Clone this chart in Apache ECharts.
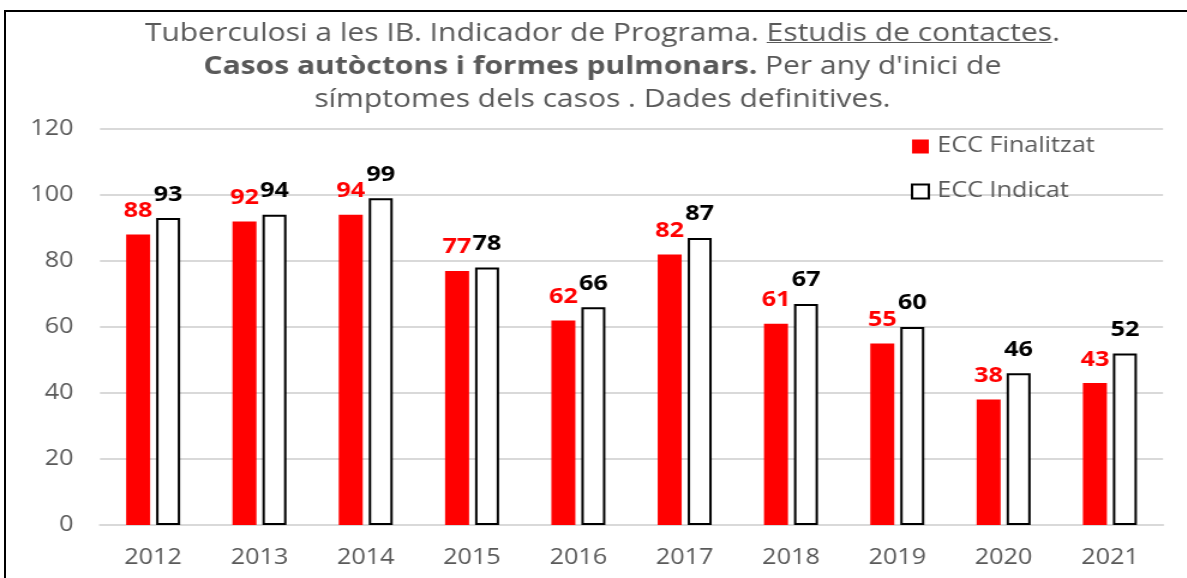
<!DOCTYPE html>
<html>
<head>
<meta charset="utf-8">
<script src="https://cdn.jsdelivr.net/npm/echarts@6/dist/echarts.min.js"></script>
<style>
  html, body { margin: 0; padding: 0; background: #fff; overflow: hidden; }
  /* el gràfic original està estirat en horitzontal: es dibuixa estret i s'eixampla */
  #chart { width: 989px; height: 578px; transform: scaleX(1.2); transform-origin: 0 0; }
  /* marc negre del gràfic original (retallat a dreta i a baix) */
  #frame { position: absolute; left: 4px; top: 10px; width: 1300px; height: 700px;
           border: 2px solid #000; pointer-events: none; }
</style>
</head>
<body>
<div id="chart"></div>
<div id="frame"></div>
<script>
const years = ['2012', '2013', '2014', '2015', '2016', '2017', '2018', '2019', '2020', '2021'];
const finalitzat = [88, 92, 94, 77, 62, 82, 61, 55, 38, 43];
const indicat = [93, 94, 99, 78, 66, 87, 67, 60, 46, 52];
const yTicks = { min: 0, max: 120, interval: 20 };

const grey = '#595959';
const font = '"Open Sans", "Noto Sans", sans-serif';

// subratllat amb un degradat al fons del tram de text
const underline = new echarts.graphic.LinearGradient(0, 0, 0, 1, [
  { offset: 0, color: 'rgba(0,0,0,0)' },
  { offset: 0.84, color: 'rgba(0,0,0,0)' },
  { offset: 0.84, color: grey },
  { offset: 0.89, color: grey },
  { offset: 0.89, color: 'rgba(0,0,0,0)' },
  { offset: 1, color: 'rgba(0,0,0,0)' }
]);

const chart = echarts.init(document.getElementById('chart'));

const option = {
  animation: false,
  title: {
    left: 497,
    textAlign: 'center',
    top: 12,
    text: 'Tuberculosi a les IB. Indicador de Programa. {u|Estudis de contactes}.\n' +
          '{b|Casos autòctons i formes pulmonars.} Per any d\'inici de\n' +
          'símptomes dels casos . Dades definitives.',
    textStyle: {
      color: grey,
      fontFamily: font,
      fontSize: 25,
      fontWeight: 'normal',
      lineHeight: 33,
      rich: {
        u: { color: grey, fontFamily: font, fontSize: 25, lineHeight: 33, backgroundColor: underline },
        b: { color: grey, fontFamily: font, fontSize: 25, lineHeight: 33, fontWeight: 'bold' }
      }
    }
  },
  legend: {
    orient: 'vertical',
    left: 754,
    top: 131,
    itemWidth: 14,
    itemHeight: 14,
    itemGap: 24,
    icon: 'rect',
    textStyle: { color: grey, fontFamily: font, fontSize: 21, padding: [0, 0, 0, 2] },
    data: ['ECC Finalitzat', 'ECC Indicat']
  },
  grid: { left: 83.3, right: 19.8, top: 129, bottom: 53, containLabel: false },
  xAxis: {
    type: 'category',
    data: years,
    axisLine: { lineStyle: { color: '#d9d9d9', width: 2 } },
    axisTick: { show: false },
    axisLabel: { color: grey, fontFamily: font, fontSize: 21, margin: 23 }
  },
  yAxis: {
    type: 'value',
    min: yTicks.min,
    max: yTicks.max,
    interval: yTicks.interval,
    axisLine: { show: false },
    axisTick: { show: false },
    splitLine: { lineStyle: { color: '#d9d9d9', width: 2 } },
    axisLabel: { color: grey, fontFamily: font, fontSize: 21, margin: 22 }
  },
  series: [
    {
      name: 'ECC Finalitzat',
      type: 'bar',
      data: finalitzat,
      barWidth: 20,
      barGap: '25%',
      itemStyle: { color: '#ff0000' },
      label: {
        show: true, position: 'top', distance: 13,
        color: '#ff0000', fontFamily: font, fontWeight: 'bold', fontSize: 21
      }
    },
    {
      name: 'ECC Indicat',
      type: 'bar',
      data: indicat,
      barWidth: 20,
      itemStyle: { color: '#ffffff', borderColor: '#000', borderWidth: 2 },
      label: {
        show: true, position: 'top', distance: 13,
        color: '#000', fontFamily: font, fontWeight: 'bold', fontSize: 21
      }
    }
  ]
};

chart.setOption(option);
</script>
</body>
</html>
